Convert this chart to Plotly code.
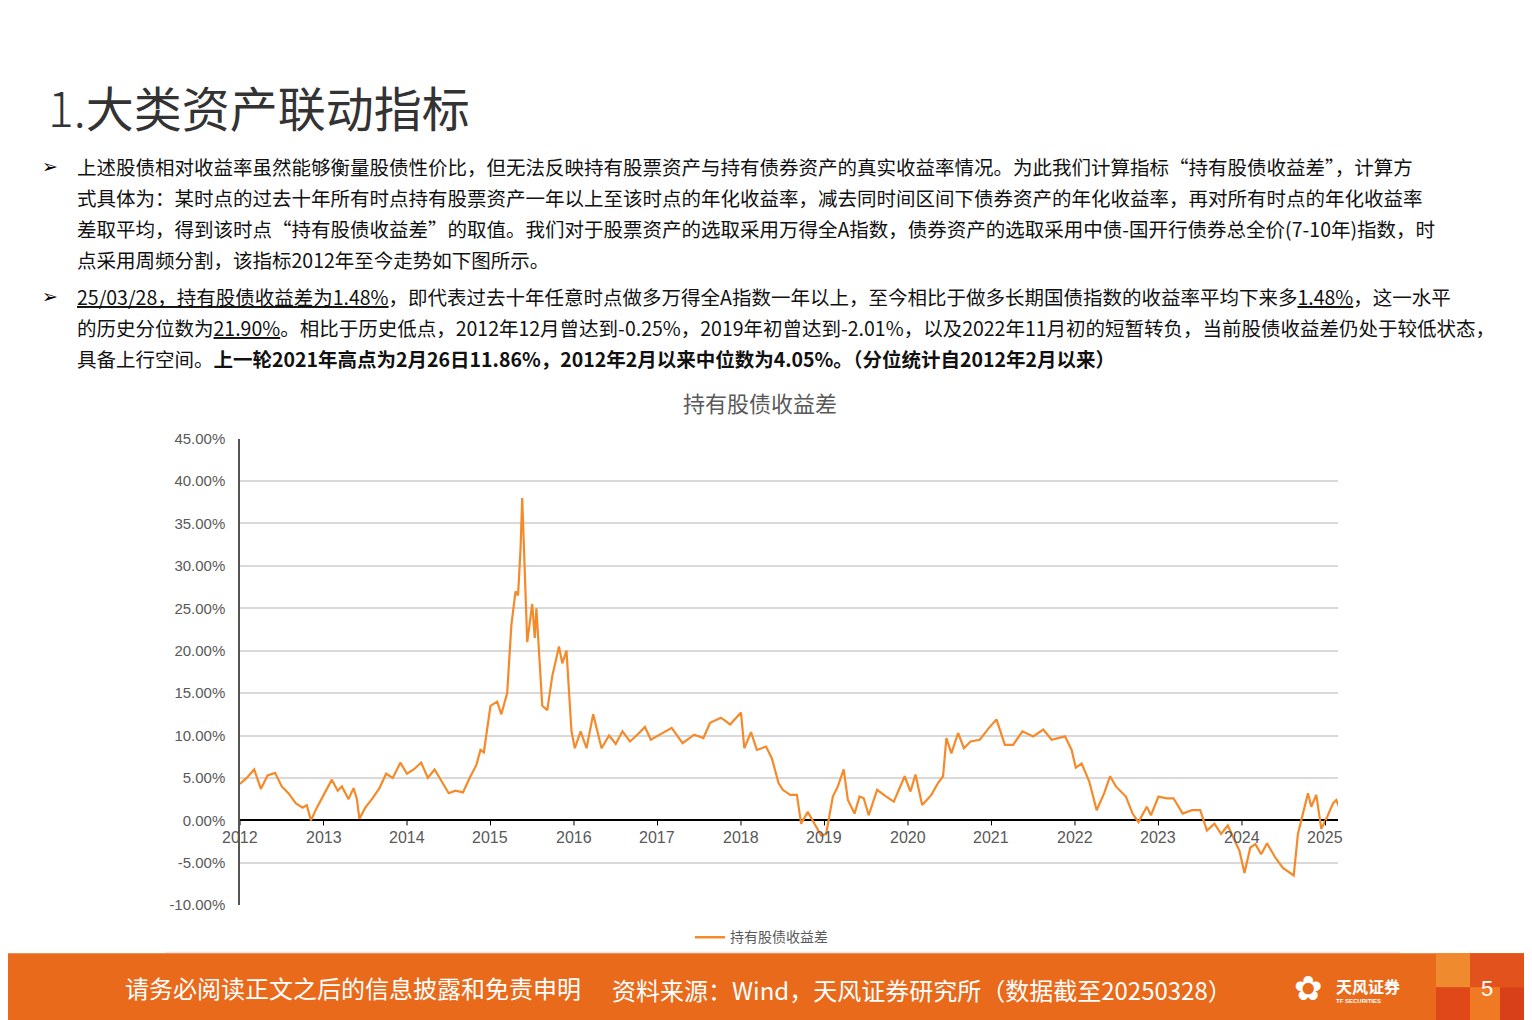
import plotly.graph_objects as go

# 时间(小数年) 与 持有股债收益差(%)
years = [2012.00, 2012.08, 2012.17, 2012.25, 2012.33, 2012.42, 2012.50, 2012.58, 2012.67, 2012.75,
         2012.80, 2012.85, 2012.92, 2013.00, 2013.10, 2013.17, 2013.22, 2013.30, 2013.36, 2013.40,
         2013.43, 2013.50, 2013.58, 2013.67, 2013.75, 2013.83, 2013.92, 2014.00, 2014.08, 2014.17,
         2014.25, 2014.33, 2014.42, 2014.50, 2014.58, 2014.67, 2014.75, 2014.83, 2014.88, 2014.92,
         2015.00, 2015.08, 2015.13, 2015.20, 2015.25, 2015.30, 2015.33, 2015.36, 2015.38, 2015.41,
         2015.44, 2015.50, 2015.53, 2015.55, 2015.62, 2015.68, 2015.74, 2015.82, 2015.86, 2015.91,
         2015.97, 2016.01, 2016.08, 2016.15, 2016.23, 2016.28, 2016.33, 2016.42, 2016.50, 2016.58,
         2016.67, 2016.75, 2016.85, 2016.92, 2017.17, 2017.30, 2017.44, 2017.55, 2017.63, 2017.76,
         2017.87, 2018.00, 2018.04, 2018.12, 2018.19, 2018.30, 2018.37, 2018.45, 2018.50, 2018.59,
         2018.67, 2018.72, 2018.80, 2018.88, 2018.96, 2019.02, 2019.10, 2019.16, 2019.23, 2019.28,
         2019.36, 2019.42, 2019.47, 2019.53, 2019.63, 2019.74, 2019.83, 2019.96, 2020.03, 2020.09,
         2020.17, 2020.28, 2020.36, 2020.42, 2020.46, 2020.52, 2020.60, 2020.67, 2020.75, 2020.86,
         2020.97, 2021.06, 2021.16, 2021.26, 2021.37, 2021.50, 2021.62, 2021.72, 2021.88, 2021.96,
         2022.01, 2022.08, 2022.17, 2022.26, 2022.35, 2022.42, 2022.49, 2022.61, 2022.69, 2022.76,
         2022.86, 2022.91, 2023.00, 2023.10, 2023.18, 2023.29, 2023.40, 2023.50, 2023.58, 2023.67,
         2023.75, 2023.83, 2023.97, 2024.03, 2024.10, 2024.16, 2024.23, 2024.30, 2024.40, 2024.49,
         2024.62, 2024.67, 2024.73, 2024.79, 2024.83, 2024.89, 2024.95, 2025.02, 2025.09, 2025.13,
         2025.17, 2025.20]
spread = [4.3, 5.0, 6.0, 3.7, 5.3, 5.6, 4.0, 3.2, 2.0, 1.5,
          1.8, 0.0, 1.5, 3.0, 4.8, 3.5, 4.0, 2.5, 3.8, 2.5,
          0.2, 1.5, 2.5, 3.8, 5.5, 5.0, 6.8, 5.5, 6.0, 6.8,
          5.0, 6.0, 4.5, 3.2, 3.5, 3.3, 5.0, 6.5, 8.3, 8.0,
          13.5, 14.0, 12.5, 15.0, 23.0, 27.0, 26.5, 32.0, 38.0, 30.0,
          21.0, 25.5, 21.5, 25.0, 13.5, 13.0, 17.0, 20.5, 18.5, 20.0,
          10.5, 8.5, 10.5, 8.5, 12.5, 10.5, 8.5, 10.0, 9.0, 10.5,
          9.3, 10.0, 11.0, 9.5, 10.9, 9.1, 10.1, 9.7, 11.5, 12.1,
          11.3, 12.7, 8.5, 10.4, 8.3, 8.7, 7.3, 4.4, 3.6, 3.0,
          3.0, -0.4, 1.0, -0.4, -1.8, -1.6, 2.8, 4.0, 6.0, 2.4,
          0.8, 2.8, 2.6, 0.6, 3.6, 2.8, 2.2, 5.2, 3.4, 5.4,
          1.8, 3.0, 4.4, 5.2, 9.7, 7.9, 10.3, 8.5, 9.3, 9.5,
          10.9, 11.9, 8.9, 8.9, 10.5, 9.9, 10.7, 9.5, 9.9, 8.3,
          6.2, 6.7, 4.6, 1.2, 3.2, 5.2, 4.0, 2.8, 0.8, -0.2,
          1.6, 0.6, 2.8, 2.6, 2.6, 0.8, 1.2, 1.2, -1.2, -0.4,
          -1.6, -0.6, -3.6, -6.2, -3.2, -2.8, -4.0, -2.7, -4.4, -5.6,
          -6.5, -1.6, 0.8, 3.2, 1.6, 3.0, -1.0, 0.4, 2.0, 2.4,
          1.4, 1.48]

year_ticks = list(range(2012, 2026))
y_ticks = [45, 40, 35, 30, 25, 20, 15, 10, 5, 0, -5, -10]

FONT = "Noto Sans CJK SC"
ORANGE = "#F58A2A"
GREY = "#595959"


# screen pixel -> paper coords (compensates the page offset seen in the render)
def px(x):
    return (x - 8) / 1532


def py(y):
    return 1 - (y - 17) / 0.982 / 1020


fig = go.Figure()
fig.add_trace(go.Scatter(x=years, y=spread, mode="lines", name="持有股债收益差",
                         line=dict(color=ORANGE, width=2.2)))

fig.update_layout(
    width=1532, height=1020, margin=dict(l=0, r=0, t=0, b=0),
    paper_bgcolor="white", plot_bgcolor="white", showlegend=False,
    xaxis=dict(domain=[px(240), px(1338)], range=[2012, 2025.15], showticklabels=False,
               showgrid=False, zeroline=False, showline=False, ticks=""),
    yaxis=dict(domain=[py(904), py(438)], range=[-10, 45], tickvals=y_ticks,
               ticktext=[f"{v:.2f}%" for v in y_ticks], showgrid=True, gridcolor="#D9D9D9",
               gridwidth=1.5, zeroline=True, zerolinecolor="#000000", zerolinewidth=1.5,
               showline=True, linecolor="#555555", linewidth=1.5, ticklabelstandoff=10,
               tickfont=dict(family="Liberation Sans", size=15, color=GREY), ticks=""),
)


def label(xpx, ypx, text, size, color, family=FONT, anchor="left"):
    fig.add_annotation(x=px(xpx), y=py(ypx), xref="paper", yref="paper", xanchor=anchor,
                       yanchor="middle", text=text, showarrow=False,
                       font=dict(family=family, size=size, color=color))


# year labels sitting just under the zero line
for yr in year_ticks:
    fig.add_annotation(x=yr, y=0, text=str(yr), showarrow=False, yshift=-17, yanchor="middle",
                       font=dict(family="Liberation Sans", size=16, color=GREY))
    fig.add_shape(type="line", x0=yr, x1=yr, y0=0, y1=-0.6, line=dict(color="#000", width=1))

# chart title and legend
label(760, 401, "持有股债收益差", 22, GREY, anchor="center")
fig.add_shape(type="line", xref="paper", yref="paper", x0=px(695), x1=px(725),
              y0=py(936), y1=py(936), line=dict(color=ORANGE, width=2.5))
label(728, 935, "持有股债收益差", 14, GREY)
fig.add_shape(type="line", xref="paper", yref="paper", x0=px(165), x1=px(1400),
              y0=py(951), y1=py(951), line=dict(color="#E0E0E0", width=1))

# page heading
label(46, 106, "<span style='font-weight:300'>1.</span>大类资产联动指标", 48, "#333333")

U = "<span style='text-decoration:underline'>"
body = [
    (166, "➢", "上述股债相对收益率虽然能够衡量股债性价比，但无法反映持有股票资产与持有债券资产的真实收益率情况。为此我们计算指标“持有股债收益差”，计算方"),
    (197, "", "式具体为：某时点的过去十年所有时点持有股票资产一年以上至该时点的年化收益率，减去同时间区间下债券资产的年化收益率，再对所有时点的年化收益率"),
    (228, "", "差取平均，得到该时点“持有股债收益差”的取值。我们对于股票资产的选取采用万得全A指数，债券资产的选取采用中债-国开行债券总全价(7-10年)指数，时"),
    (259, "", "点采用周频分割，该指标2012年至今走势如下图所示。"),
    (296, "➢", U + "25/03/28，持有股债收益差为1.48%</span>，即代表过去十年任意时点做多万得全A指数一年以上，至今相比于做多长期国债指数的收益率平均下来多" + U + "1.48%</span>，这一水平"),
    (327, "", "的历史分位数为" + U + "21.90%</span>。相比于历史低点，2012年12月曾达到-0.25%，2019年初曾达到-2.01%，以及2022年11月初的短暂转负，当前股债收益差仍处于较低状态，"),
    (358, "", "具备上行空间。<b>上一轮2021年高点为2月26日11.86%，2012年2月以来中位数为4.05%。（分位统计自2012年2月以来）</b>"),
]
for ypx, bullet, txt in body:
    if bullet:
        label(40, ypx, bullet, 19, "#000000", family="DejaVu Sans")
    label(75, ypx, txt, 19.5, "#111111")

# footer band
fig.add_shape(type="rect", xref="paper", yref="paper", x0=0, x1=1, y0=0, y1=py(952),
              fillcolor="#EA6A1B", line_width=0, layer="below")
blocks = [(1436, 1470, 952, 986, "#F08A2E"), (1470, 1540, 952, 986, "#E2521C"),
          (1436, 1470, 986, 1030, "#E0481A"), (1470, 1500, 986, 1030, "#F07A24"),
          (1500, 1540, 986, 1030, "#D8401A")]
for x0, x1, y0, y1, c in blocks:
    fig.add_shape(type="rect", xref="paper", yref="paper", x0=px(x0), x1=px(x1),
                  y0=py(y1), y1=py(y0), fillcolor=c, line_width=0)
label(123, 986, "请务必阅读正文之后的信息披露和免责申明", 24, "white")
label(610, 988, "资料来源：Wind，天风证券研究所（数据截至20250328）", 24, "white")
label(1292, 987, "✿", 34, "white", family="DejaVu Sans")
label(1334, 985, "<b>天风证券</b>", 16, "white")
label(1334, 1000, "<b>TF SECURITIES</b>", 6, "white", family="Liberation Sans")
label(1487, 987, "5", 22, "white", family="Liberation Sans", anchor="center")

fig.write_html("out.html")
